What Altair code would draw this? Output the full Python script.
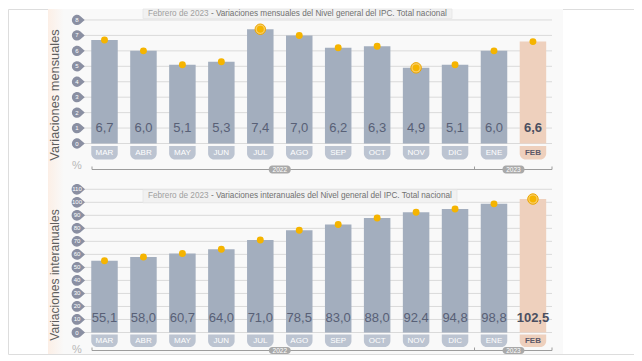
import altair as alt
import pandas as pd
import numpy as np

# ---------------- data ----------------
months = ["MAR", "ABR", "MAY", "JUN", "JUL", "AGO", "SEP", "OCT", "NOV", "DIC", "ENE", "FEB"]
monthly = [6.7, 6.0, 5.1, 5.3, 7.4, 7.0, 6.2, 6.3, 4.9, 5.1, 6.0, 6.6]
yearly = [55.1, 58.0, 60.7, 64.0, 71.0, 78.5, 83.0, 88.0, 92.4, 94.8, 98.8, 102.5]
monthly_ring = ["JUL", "NOV"]
yearly_ring = ["FEB"]
current = "FEB"
monthly_ticks = [0, 1, 2, 3, 4, 5, 6, 7, 8]
yearly_ticks = [0, 10, 20, 30, 40, 50, 60, 70, 80, 90, 100, 110]
years = ["2022", "2023"]
year_months = [months[:10], months[10:]]
title_lead = "Febrero de 2023"
title_top = "- Variaciones mensuales del Nivel general del IPC. Total nacional"
title_bottom = "- Variaciones interanuales del Nivel general del IPC. Total nacional"
axis_top = "Variaciones mensuales"
axis_bottom = "Variaciones interanuales"

# ---------------- layout / style ----------------
FONT = "Liberation Sans"
W, H = 626, 345
X0, Y0 = 8, 8
X_FIRST, X_STEP = 104.5, 38.95
BAR_W = 26.5
BG = "#f9f9f9"
GRID = "#dadada"
BAR = "#a3aebe"
PEACH = "#eed0bd"
PILL = "#bcc4d1"
DOT = "#f5b400"
RING_FILL = "#f9cd63"
RING_STROKE = "#eba500"
BADGE = "#8a8fa2"
LABEL = "#586076"
PIN = "M 1 0 L 0.333 -0.596 A 0.8 0.8 0 1 0 0.333 0.596 Z"


def gx(px):
    return (px - X_FIRST) / X_STEP


XDOM = [gx(X0), gx(X0 + W)]

L_TOP = dict(zero=142.5, ppu=15.44, bg=(8, 180), tbox=(8, 17.5, 143, 452), ty=12.8,
             label_y=126.7, pill=(145, 158.5), month_y=152, pct_y=165, year_y=168.5,
             yp_h=8, axis_c=94, axis_fs=12.8, badge=165)
L_BOT = dict(zero=331.5, ppu=1.302, bg=(180, 353), tbox=(188.8, 201.8, 143, 457), ty=195.3,
             label_y=316.7, pill=(333.5, 346), month_y=340, pct_y=348.5, year_y=349.5,
             yp_h=7, axis_c=274, axis_fs=12.1, badge=180)


def panel(values, ring_months, ticks, title_rest, axis_title, L):
    fy = lambda py: (L["zero"] - py) / L["ppu"]
    ysc = alt.Scale(domain=[fy(Y0 + H), fy(Y0)], nice=False, zero=False)
    xsc = alt.Scale(domain=XDOM, nice=False, zero=False)

    def ex(f):
        return alt.X(f + ":Q", scale=xsc, axis=None)

    def ey(f):
        return alt.Y(f + ":Q", scale=ysc, axis=None)

    half = BAR_W / 2 / X_STEP
    b = pd.DataFrame({"month": months, "value": values, "idx": list(range(len(months)))})
    b["lo"] = b.idx - half
    b["hi"] = b.idx + half
    b["zero"] = 0.0
    b["cur"] = b.month == current
    b["fill"] = np.where(b.cur, PEACH, BAR)
    b["pill"] = np.where(b.cur, PEACH, PILL)
    b["label"] = [f"{v:.1f}".replace(".", ",") for v in values]
    b["ring"] = b.month.isin(ring_months)
    b["ly"] = fy(L["label_y"])
    b["p1"] = fy(L["pill"][0])
    b["p2"] = fy(L["pill"][1])
    b["my"] = fy(L["month_y"])

    layers = []
    # background
    bg = pd.DataFrame({"a": [gx(48)], "b": [gx(563)], "c": [fy(L["bg"][0])], "d": [fy(L["bg"][1])]})
    layers.append(alt.Chart(bg).mark_rect(color=BG).encode(x=ex("a"), x2="b", y=ey("c"), y2="d"))
    edge = pd.DataFrame({"a": [gx(48)], "b": [gx(64)], "c": [fy(L["bg"][0])], "d": [fy(L["bg"][1])]})
    layers.append(alt.Chart(edge).mark_rect(
        fill=alt.Gradient(gradient="linear", x1=0, x2=1, y1=0, y2=0,
                          stops=[alt.GradientStop(color="#fcefe6", offset=0),
                                 alt.GradientStop(color=BG, offset=1)])
    ).encode(x=ex("a"), x2="b", y=ey("c"), y2="d"))

    # gridlines
    g = pd.DataFrame({"t": ticks})
    g["xa"] = gx(80)
    g["xb"] = gx(552)
    layers.append(alt.Chart(g).mark_rule(color=GRID, strokeWidth=1).encode(x=ex("xa"), x2="xb", y=ey("t")))

    # title box
    tb = pd.DataFrame({"a": [gx(L["tbox"][2])], "b": [gx(L["tbox"][3])],
                       "c": [fy(L["tbox"][0])], "d": [fy(L["tbox"][1])],
                       "tx1": [gx(L["tbox"][2] + 5)], "tx2": [gx(L["tbox"][2] + 5 + 8.2 * 7.67)],
                       "ty": [fy(L["ty"])], "lead": [title_lead], "rest": [title_rest]})
    layers.append(alt.Chart(tb).mark_rect(color="#f1f1f1", stroke="#e6e6e6", strokeWidth=0.8).encode(
        x=ex("a"), x2="b", y=ey("c"), y2="d"))
    layers.append(alt.Chart(tb).mark_text(fontSize=8.2, color="#a0a0a0", align="left", baseline="middle").encode(
        x=ex("tx1"), y=ey("ty"), text="lead:N"))
    layers.append(alt.Chart(tb).mark_text(fontSize=8.2, color="#707070", align="left", baseline="middle").encode(
        x=ex("tx2"), y=ey("ty"), text="rest:N"))

    # bars
    layers.append(alt.Chart(b).mark_bar().encode(
        x=ex("lo"), x2="hi", y=ey("value"), y2="zero", color=alt.Color("fill:N", scale=None)))
    # rings and dots
    layers.append(alt.Chart(b).transform_filter("datum.ring").mark_point(
        filled=True, size=110, fill=RING_FILL, stroke=RING_STROKE, strokeWidth=1, opacity=1).encode(
        x=ex("idx"), y=ey("value")))
    layers.append(alt.Chart(b).mark_circle(size=48, color=DOT, opacity=1).encode(
        x=ex("idx"), y=ey("value")))
    # value labels
    layers.append(alt.Chart(b).transform_filter("!datum.cur").mark_text(
        fontSize=13, color=LABEL, baseline="middle").encode(x=ex("idx"), y=ey("ly"), text="label:N"))
    layers.append(alt.Chart(b).transform_filter("datum.cur").mark_text(
        fontSize=13, color="#4b4f60", fontWeight="bold", baseline="middle").encode(
        x=ex("idx"), y=ey("ly"), text="label:N"))
    # month pills
    layers.append(alt.Chart(b).mark_bar(cornerRadiusBottomLeft=6, cornerRadiusBottomRight=6).encode(
        x=ex("lo"), x2="hi", y=ey("p1"), y2="p2", color=alt.Color("pill:N", scale=None)))
    layers.append(alt.Chart(b).transform_filter("!datum.cur").mark_text(
        fontSize=8, color="white", baseline="middle").encode(x=ex("idx"), y=ey("my"), text="month:N"))
    layers.append(alt.Chart(b).transform_filter("datum.cur").mark_text(
        fontSize=8, color="#5b5868", fontWeight="bold", baseline="middle").encode(
        x=ex("idx"), y=ey("my"), text="month:N"))

    # tick badges
    g["bx"] = gx(78.3)
    g["tx"] = gx(77)
    g["lab"] = [str(t) for t in ticks]
    layers.append(alt.Chart(g).mark_point(shape=PIN, filled=True, size=L["badge"], color=BADGE, opacity=1).encode(
        x=ex("bx"), y=ey("t")))
    layers.append(alt.Chart(g).mark_text(fontSize=6, color="white", baseline="middle").encode(
        x=ex("tx"), y=ey("t"), text="lab:N"))

    # percent sign
    pc = pd.DataFrame({"x": [gx(77)], "y": [fy(L["pct_y"])], "t": ["%"]})
    layers.append(alt.Chart(pc).mark_text(fontSize=11, color="#b8b8b8", baseline="middle").encode(
        x=ex("x"), y=ey("y"), text="t:N"))

    # year bracket
    yy = L["year_y"]
    yl = pd.DataFrame({"a": [gx(92)], "b": [gx(552)], "y": [fy(yy)]})
    layers.append(alt.Chart(yl).mark_rule(color="#9d9d9d", strokeWidth=1).encode(x=ex("a"), x2="b", y=ey("y")))
    sep = [gx(92)] + [months.index(m[-1]) + 0.5 for m in year_months[:-1]] + [gx(552)]
    tk = pd.DataFrame({"x": sep})
    tk["y1"] = fy(yy)
    tk["y2"] = fy(yy - 3)
    layers.append(alt.Chart(tk).mark_rule(color="#9d9d9d", strokeWidth=1).encode(x=ex("x"), y=ey("y1"), y2="y2"))
    centers = [float(np.mean([months.index(m) for m in ms])) for ms in year_months]
    yp = pd.DataFrame({"year": years, "c": centers})
    yp["a"] = yp.c - 11 / X_STEP
    yp["b"] = yp.c + 11 / X_STEP
    yp["y1"] = fy(yy - L["yp_h"] / 2)
    yp["y2"] = fy(yy + L["yp_h"] / 2)
    yp["ym"] = fy(yy)
    layers.append(alt.Chart(yp).mark_rect(color="#a9a9a9", cornerRadius=3.5).encode(
        x=ex("a"), x2="b", y=ey("y1"), y2="y2"))
    layers.append(alt.Chart(yp).mark_text(fontSize=6.5, color="white", baseline="middle").encode(
        x=ex("c"), y=ey("ym"), text="year:N"))

    # axis title
    at = pd.DataFrame({"x": [gx(55)], "y": [fy(L["axis_c"])], "t": [axis_title]})
    layers.append(alt.Chart(at).mark_text(fontSize=L["axis_fs"], color="#5e5e5e", angle=270,
                                          baseline="middle", align="center").encode(
        x=ex("x"), y=ey("y"), text="t:N"))

    return alt.layer(*layers)


top = panel(monthly, monthly_ring, monthly_ticks, title_top, axis_top, L_TOP)
bottom = panel(yearly, yearly_ring, yearly_ticks, title_bottom, axis_bottom, L_BOT)

chart = alt.layer(top, bottom).resolve_scale(y="independent").properties(
    width=W, height=H, padding=0, background="white"
).configure_view(stroke=None).configure(font=FONT)

chart.save("out.html", embed_options={"renderer": "svg", "actions": False})
